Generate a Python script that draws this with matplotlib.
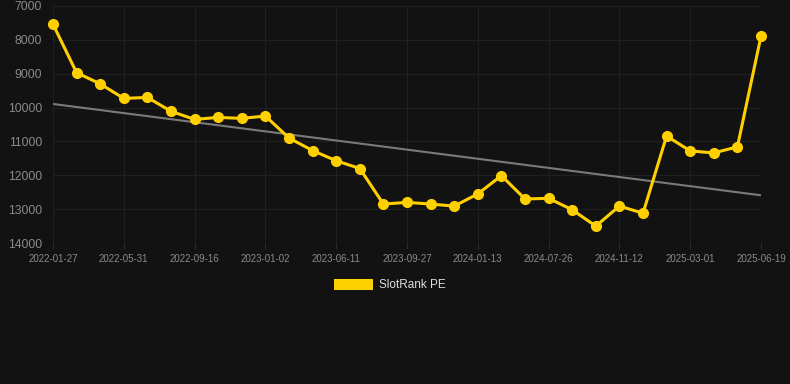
import numpy as np
import matplotlib
matplotlib.use('Agg')
import matplotlib.pyplot as plt
from matplotlib.patches import Patch

plt.rcParams['font.family'] = ['Liberation Sans', 'DejaVu Sans']

# SlotRank PE values, one point per period (evenly spaced on the x axis)
pe_values = [7540, 8970, 9300, 9730, 9700, 10110, 10350, 10290, 10320, 10250,
             10900, 11270, 11570, 11800, 12850, 12800, 12850, 12910, 12550, 12010,
             12700, 12680, 13020, 13500, 12910, 13120, 10840, 11280, 11340, 11160,
             7890]

# only every third point carries a date label
tick_idx = [0, 3, 6, 9, 12, 15, 18, 21, 24, 27, 30]
tick_labels = ['2022-01-27', '2022-05-31', '2022-09-16', '2023-01-02', '2023-06-11',
               '2023-09-27', '2024-01-13', '2024-07-26', '2024-11-12', '2025-03-01',
               '2025-06-19']

y_ticks = [7000, 8000, 9000, 10000, 11000, 12000, 13000, 14000]

bg = '#121212'
yellow = '#ffd000'

x = np.arange(len(pe_values))
coef = np.polyfit(x, pe_values, 1)
trend = np.polyval(coef, x)

fig = plt.figure(figsize=(7.9, 3.84), dpi=100, facecolor=bg)
ax = fig.add_axes([53 / 790, 1 - 243 / 384, (761 - 53) / 790, (243 - 6) / 384])
ax.set_facecolor(bg)

ax.plot(x, trend, color='#7a7a7a', linewidth=1.5, zorder=2)
ax.plot(x, pe_values, color=yellow, linewidth=2.2, marker='o', markersize=7,
        zorder=3, clip_on=False)

ax.set_xlim(0, len(pe_values) - 1)
ax.set_ylim(14000, 7000)
ax.set_yticks(y_ticks)
ax.set_xticks(tick_idx)
ax.set_xticklabels(tick_labels)

ax.grid(True, color='#202020', linewidth=0.8)
ax.set_axisbelow(True)
for s in ax.spines.values():
    s.set_visible(False)

ax.tick_params(axis='y', length=0, pad=8, labelsize=8.7, labelcolor='#8a8a8a')
ax.tick_params(axis='x', length=4, color='#2a2a2a', pad=4, labelsize=7, labelcolor='#8a8a8a')

handle = Patch(facecolor=yellow, edgecolor='none')
leg = fig.legend([handle], ['SlotRank PE'], loc='center', bbox_to_anchor=(389.5 / 790, 1 - 285 / 384),
                 frameon=False, handlelength=3.3, handleheight=1.1, handletextpad=0.5,
                 fontsize=8.5)
for t in leg.get_texts():
    t.set_color('#dddddd')

fig.savefig('out.png', dpi=100, facecolor=bg)
